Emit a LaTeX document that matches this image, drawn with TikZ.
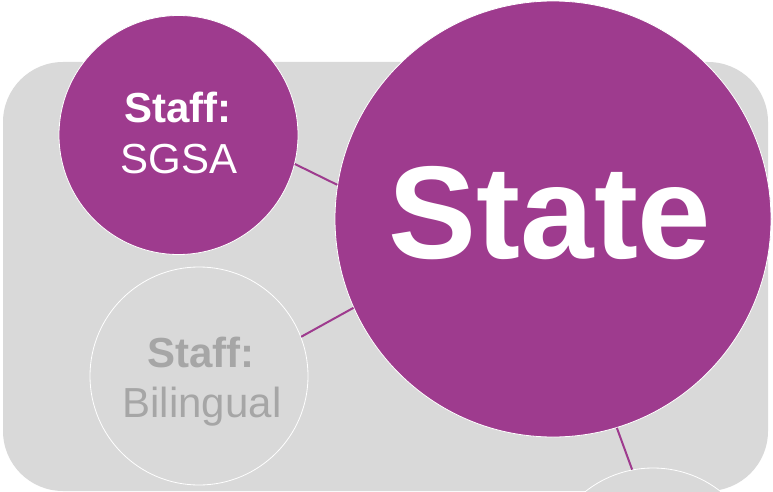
\documentclass[tikz,border=0pt]{standalone}
\usepackage{fontspec}
\setmainfont{Liberation Sans}
\definecolor{plum}{RGB}{158,59,142}
\definecolor{panel}{RGB}{217,217,217}
\definecolor{mute}{RGB}{166,166,166}
\begin{document}
\begin{tikzpicture}[x=1pt,y=-1pt,
  bubble/.style={circle, draw=white, line width=0.8pt, inner sep=0pt},
  link/.style={draw=plum, line width=2pt},
  lbl/.style={anchor=base, inner sep=0pt, font=\fontsize{42}{50}\selectfont}]
\useasboundingbox (0,0) rectangle (773,492);
\clip (0,0) rectangle (773,492);
\fill[panel, rounded corners=60pt] (3,62) rectangle (768,491);
\node[bubble, fill=plum, minimum size=239pt] (sgsa) at (178.5,135) {};
\node[bubble, fill=panel, minimum size=218pt] (bil) at (199,376) {};
\node[bubble, fill=plum, minimum size=436pt] (state) at (553,219) {};
\node[bubble, fill=panel, minimum size=218pt] (next) at (653,577) {};
\draw[link] (sgsa.-14) -- (state.171.4);
\draw[link] (bil.21.5) -- (state.204.1);
\draw[link] (state.-73) -- (next.101.3);
\node[lbl, text=white] (t1) at (178,122) {\bfseries Staff:};
\node[lbl, text=white] (t2) at (179,173) {SGSA};
\node[lbl, text=mute] (t3) at (201,367) {\bfseries Staff:};
\node[lbl, text=mute] (t4) at (202,417) {Bilingual};
\node[anchor=base, inner sep=0pt, text=white, font=\fontsize{132}{140}\selectfont\bfseries] (t5) at (550,258) {State};
\end{tikzpicture}
\end{document}
